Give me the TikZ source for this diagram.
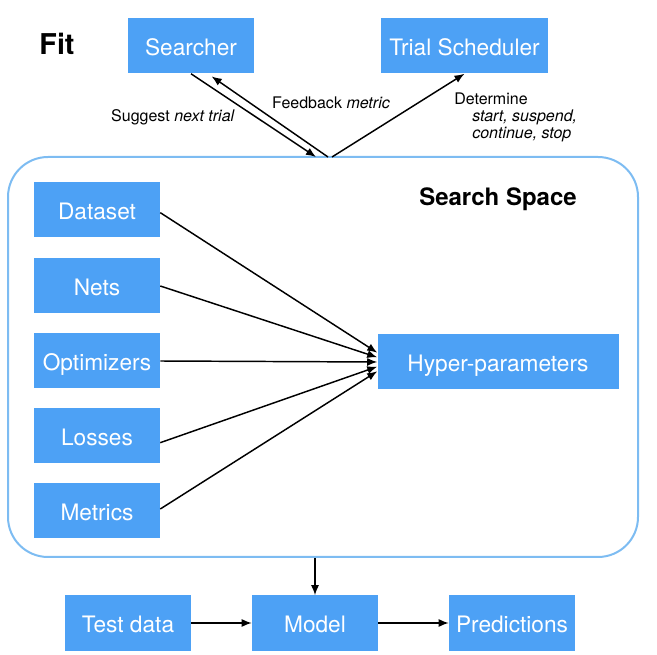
\documentclass[tikz,border=0pt]{standalone}
\usepackage{fontspec}
\setmainfont{TeX Gyre Heros}
\usetikzlibrary{shapes.geometric, arrows, arrows.meta}
\definecolor{boxblue}{RGB}{77,161,245}
\definecolor{spaceblue}{RGB}{125,188,242}

\begin{document}
\begin{tikzpicture}[x=0.75pt, y=-0.75pt,
  box/.style={fill=boxblue, text=white, inner sep=0pt, text height=14.2pt, text depth=0pt, minimum width=94.5pt, minimum height=41.25pt, font=\fontsize{17}{20}\selectfont},
  lbl/.style={inner sep=0pt, font=\fontsize{12}{12.75}\selectfont},
  arr/.style={-{Latex[length=7.5pt, width=6pt]}, line width=1.1pt}]
\useasboundingbox (0,0) rectangle (657,655);
\node [draw=spaceblue, line width=1.5pt, rounded corners=30pt, minimum width=472.5pt, minimum height=300pt] (space) at (323,357) {};
\node [font=\fontsize{21.5}{24}\selectfont\bfseries] (fit) at (57,44) {Fit};
\node [font=\fontsize{18}{21}\selectfont\bfseries] (title) at (498,199) {Search Space};

\node [box] (searcher) at (191,46) {Searcher};
\node [box, minimum width=125.25pt] (sched) at (464.5,46) {Trial Scheduler};

\node [box] (dataset) at (97,210) {Dataset};
\node [box] (nets) at (97,286) {Nets};
\node [box] (optim) at (97,361) {Optimizers};
\node [box] (losses) at (97,436) {Losses};
\node [box] (metrics) at (97,511) {Metrics};
\node [box, minimum width=180.75pt] (hyper) at (498,362) {Hyper-parameters};

\node [box, minimum height=42pt] (test) at (128,623) {Test data};
\node [box] (model) at (315,623) {Model};
\node [box, minimum height=42pt] (pred) at (512,623) {Predictions};

% top loop
\coordinate (sug) at (316,157);
\coordinate (feed) at (328,157);
\coordinate (det) at (332,157);
\draw [arr] (searcher.south) -- (sug);
\draw [arr] (feed) -- ([xshift=15.5pt, yshift=-2pt]searcher.south);
\draw [arr] (det) -- (sched.south);
\node [lbl] (sugtxt) at (173,117) {Suggest \textit{next trial}};
\node [lbl] (feedtxt) at (331,103) {Feedback \textit{metric}};
\node [lbl, anchor=north west, align=left] (dettxt) at (454,93) {Determine\\\hspace*{13.5pt}\textit{start, suspend,}\\\hspace*{13.5pt}\textit{continue, stop}};

% search space
\draw [arr] ([yshift=-2pt]dataset.east) -- ([yshift=7pt]hyper.west);
\draw [arr] (nets.east) -- ([yshift=3.5pt]hyper.west);
\draw [arr] (optim.east) -- (hyper.west);
\draw [arr] ([yshift=-5pt]losses.east) -- ([yshift=-3.5pt]hyper.west);
\draw [arr] ([yshift=1.5pt]metrics.east) -- ([yshift=-7pt]hyper.west);

% prediction
\draw [arr] (space.south -| model.north) -- (model.north);
\draw [arr] (test.east) -- (model.west);
\draw [arr] (model.east) -- (pred.west);

\end{tikzpicture}
\end{document}
